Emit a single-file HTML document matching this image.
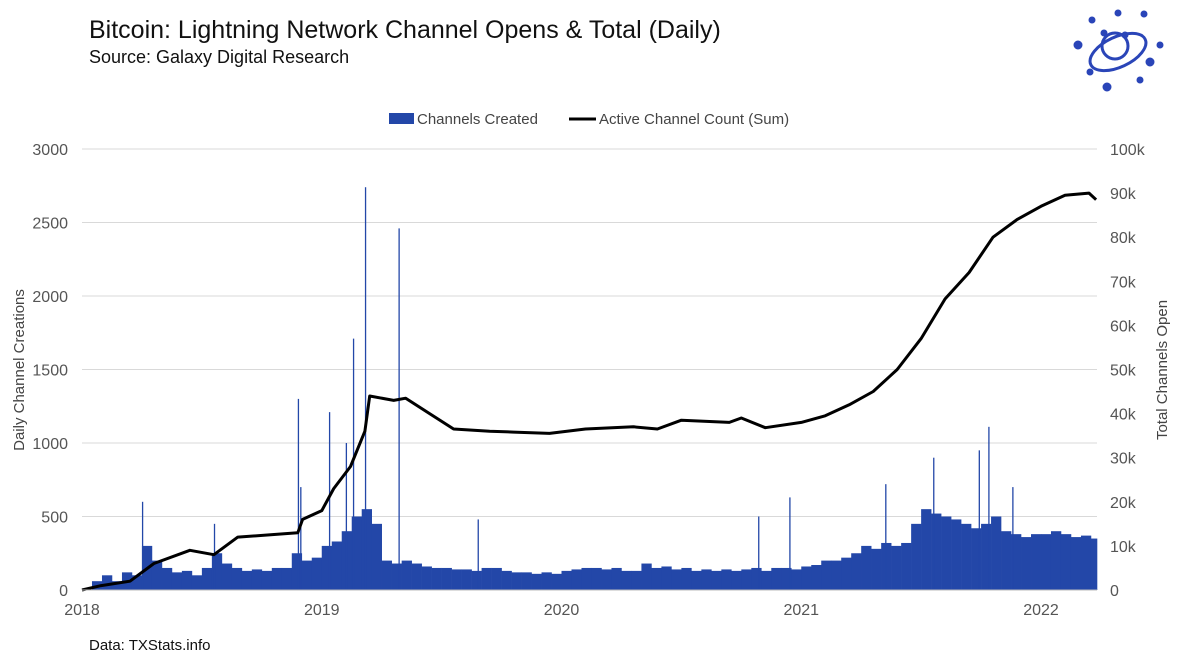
<!DOCTYPE html>
<html><head><meta charset="utf-8"><style>
body{margin:0;background:#fff;font-family:"Liberation Sans",sans-serif;}
#wrap{position:relative;width:1177px;height:662px;overflow:hidden;}
</style></head><body>
<div id="wrap">
<svg id="svg" width="1177" height="662" xmlns="http://www.w3.org/2000/svg">
<text x="89" y="38" font-size="25" fill="#111">Bitcoin: Lightning Network Channel Opens &amp; Total (Daily)</text>
<text x="89" y="63" font-size="18" fill="#111">Source: Galaxy Digital Research</text>
<text x="89" y="650" font-size="15" fill="#111">Data: TXStats.info</text>
<g>
<rect x="389" y="113" width="25" height="11" fill="#2347a8"/>
<text x="417" y="124" font-size="15" fill="#444">Channels Created</text>
<line x1="569" y1="119" x2="596" y2="119" stroke="#000" stroke-width="3"/>
<text x="599" y="124" font-size="15" fill="#444">Active Channel Count (Sum)</text>
</g>
<text transform="translate(24,370) rotate(-90)" text-anchor="middle" font-size="15" fill="#444">Daily Channel Creations</text>
<text transform="translate(1167,370) rotate(-90)" text-anchor="middle" font-size="15" fill="#444">Total Channels Open</text>
<g fill="#2a45b8" stroke="#2a45b8">
<ellipse cx="1118" cy="52" rx="30" ry="15" transform="rotate(-25 1118 52)" fill="none" stroke-width="3"/>
<circle cx="1115" cy="46" r="13" fill="none" stroke-width="3"/>
<circle cx="1092" cy="20" r="3"/><circle cx="1118" cy="13" r="3"/><circle cx="1144" cy="14" r="3"/><circle cx="1078" cy="45" r="4"/><circle cx="1160" cy="45" r="3"/><circle cx="1150" cy="62" r="4"/><circle cx="1107" cy="87" r="4"/><circle cx="1140" cy="80" r="3"/><circle cx="1090" cy="72" r="3"/><circle cx="1125" cy="35" r="3"/><circle cx="1104" cy="33" r="3"/>
</g>
<g id="grid"></g><g id="bars"></g><g id="line"></g><g id="axes"></g>
</svg>
</div>
<script>
// Half-monthly typical daily channel creations, starting Jan 2018
const baseValues=[0,60,100,60,120,100,300,200,150,120,130,100,150,250,180,150,130,140,130,150,150,250,200,220,
300,330,400,500,550,450,200,180,200,180,160,150,150,140,140,130,150,150,130,120,120,110,120,110,
130,140,150,150,140,150,130,130,180,150,160,140,150,130,140,130,140,130,140,150,130,150,150,140,
160,170,200,200,220,250,300,280,320,300,320,450,550,520,500,480,450,420,450,500,400,380,360,380,
380,400,380,360,370,350];
// Spikes: fractional-year dates and values
const spikeDates=[2018.25,2018.55,2018.90,2018.91,2019.03,2019.10,2019.13,2019.18,2019.32,2019.65,2020.82,2020.95,2021.35,2021.55,2021.74,2021.78,2021.88];
const spikeValues=[600,450,1300,700,1210,1000,1710,2740,2460,480,500,630,720,900,950,1110,700];
// Active channel count (thousands)
const lineDates=[2018.0,2018.08,2018.2,2018.3,2018.45,2018.55,2018.65,2018.78,2018.9,2018.92,2019.0,2019.05,2019.12,2019.18,2019.2,2019.3,2019.35,2019.45,2019.55,2019.7,2019.8,2019.95,2020.1,2020.3,2020.4,2020.5,2020.7,2020.75,2020.85,2021.0,2021.1,2021.2,2021.3,2021.4,2021.5,2021.6,2021.7,2021.8,2021.9,2022.0,2022.1,2022.2,2022.23];
const lineValues=[0,1,2,6,9,8,12,12.5,13,16,18,23,28,36,44,43,43.5,40,36.5,36,35.8,35.5,36.5,37,36.5,38.5,38,39,36.8,38,39.5,42,45,50,57,66,72,80,84,87,89.5,90,88.5];
const leftTicks=[0,500,1000,1500,2000,2500,3000];
const rightTicks=["0","10k","20k","30k","40k","50k","60k","70k","80k","90k","100k"];
const yearTicks=[2018,2019,2020,2021,2022];

const NS="http://www.w3.org/2000/svg";
const X0=82,PXY=239.75,Y0=590,YT=149,XEND=1097;
const x=t=>X0+(t-2018)*PXY;
const yL=v=>Y0-v/3000*(Y0-YT);
const yR=v=>Y0-v/100*(Y0-YT);
function mk(tag,attrs,parent){const e=document.createElementNS(NS,tag);for(const k in attrs)e.setAttribute(k,attrs[k]);document.getElementById(parent).appendChild(e);return e;}

leftTicks.forEach((v,i)=>{
  const g=mk('line',{x1:X0,x2:XEND,y1:yL(v),y2:yL(v),stroke:'#d9d9d9','stroke-width':1},'grid');
  
  
  const t=mk('text',{x:68,y:yL(v)+6,'text-anchor':'end','font-size':16,fill:'#555'},'axes');t.textContent=v;
  
  
});
rightTicks.forEach((s,i)=>{
  const t=mk('text',{x:1110,y:yR(i*10)+6,'font-size':16,fill:'#555'},'axes');t.textContent=s;
  
  
});
yearTicks.forEach(yr=>{
  const t=mk('text',{x:x(yr),y:615,'text-anchor':'middle','font-size':16,fill:'#555'},'axes');t.textContent=yr;
  
  
});
const ax=mk('line',{x1:X0,x2:XEND,y1:Y0,y2:Y0,stroke:'#bbb'},'axes');



baseValues.forEach((v,i)=>{
  const t0=2018+i/24;
  const x0=x(t0),x1=Math.min(x(t0+1/24),XEND);
  if(x1<=x0)return;
  const b=mk('rect',{x:x0,y:yL(v),width:x1-x0+0.3,height:Y0-yL(v),fill:'#2347a8'},'bars');
  
  
});
spikeDates.forEach((d,i)=>{
  const b=mk('rect',{x:x(d),y:yL(spikeValues[i]),width:1.3,height:Y0-yL(spikeValues[i]),fill:'#2347a8'},'bars');
  
  
});
const pts=lineDates.map((d,i)=>x(d).toFixed(1)+','+yR(lineValues[i]).toFixed(1)).join(' ');
const pl=mk('polyline',{points:pts,fill:'none',stroke:'#000','stroke-width':3,'stroke-linejoin':'round'},'line');


</script>
</body></html>
